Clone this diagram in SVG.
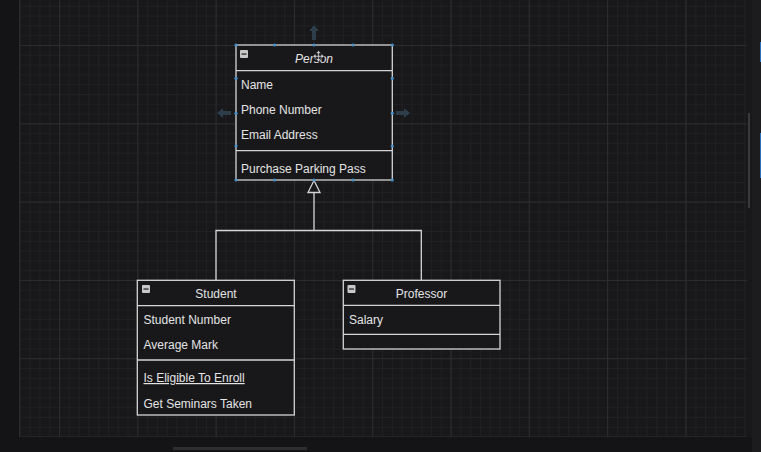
<svg xmlns="http://www.w3.org/2000/svg" width="761" height="452" viewBox="0 0 761 452">
<defs>
<pattern id="minor" patternUnits="userSpaceOnUse" x="59" y="45" width="9.79" height="9.79">
<path d="M0 0.5H9.79M0.5 0V9.79" fill="none" stroke="#202023" stroke-width="1"/>
</pattern>
<pattern id="major" patternUnits="userSpaceOnUse" x="59" y="45" width="78.3" height="78.3">
<path d="M0 0.5H78.3M0.5 0V78.3" fill="none" stroke="#2c2c2f" stroke-width="1"/>
</pattern>
<g id="minus">
<rect x="0" y="0" width="8" height="8" fill="#c8c8c8" rx="1"/>
<rect x="1.5" y="3.4" width="5" height="1.3" fill="#2a2a2a"/>
</g>
</defs>
<style>
.box{fill:#18181b;stroke:#d4d4d4;stroke-width:1.3}
.sep{stroke:#d4d4d4;stroke-width:1.3}
.t{font-family:"Liberation Sans",Arial,sans-serif;font-size:12px;fill:#e4e4e4}
.h{text-anchor:middle}
.conn{fill:none;stroke:#d4d4d4;stroke-width:1.3}
.hd{fill:#4a90c8}
.ga{fill:#2e3d4a}
</style>
<rect x="0" y="0" width="761" height="452" fill="#18181b"/>
<rect x="20" y="0" width="727" height="437" fill="url(#minor)"/>
<rect x="20" y="0" width="727" height="437" fill="url(#major)"/>
<rect x="0" y="0" width="19" height="452" fill="#141416"/>
<line x1="19.5" y1="0" x2="19.5" y2="437" stroke="#2c2c2f"/>
<rect x="0" y="437" width="761" height="15" fill="#141416"/>
<rect x="173" y="447" width="134" height="3" fill="#2e2e31"/>
<rect x="752" y="0" width="9" height="452" fill="#1c1c1f"/>
<rect x="748" y="113" width="2" height="95" fill="#3a3a3d"/>
<rect x="760" y="42" width="1" height="20" fill="#2d6fb8"/>
<rect x="760" y="133" width="1" height="45" fill="#2d6fb8"/>

<g id="connectors">
<path class="conn" d="M314 192.5V230.5M216 280V230.5H421.3V280"/>
<path d="M314 180.5L308 192.5H320Z" fill="#18181b" stroke="#d4d4d4" stroke-width="1.3"/>
</g>

<g id="person">
<rect class="box" x="236" y="45" width="156.3" height="135"/>
<line class="sep" x1="236" y1="70.7" x2="392.3" y2="70.7"/>
<line class="sep" x1="236" y1="150.7" x2="392.3" y2="150.7"/>
<use href="#minus" x="240" y="50"/>
<text class="t h" x="314" y="62.5" font-style="italic">Person</text>
<text class="t" x="241" y="88.5">Name</text>
<text class="t" x="241" y="113.5">Phone Number</text>
<text class="t" x="241" y="139">Email Address</text>
<text class="t" x="241" y="172.5">Purchase Parking Pass</text>
<g class="hd">
<circle cx="236" cy="45" r="1.6"/><circle cx="274.5" cy="45" r="1.6"/><circle cx="314" cy="45" r="1.6"/><circle cx="353" cy="45" r="1.6"/><circle cx="392.3" cy="45" r="1.6"/>
<circle cx="236" cy="180" r="1.6"/><circle cx="274.5" cy="180" r="1.6"/><circle cx="314" cy="180" r="1.6"/><circle cx="353" cy="180" r="1.6"/><circle cx="392.3" cy="180" r="1.6"/>
<circle cx="236" cy="78.3" r="1.6"/><circle cx="236" cy="113.3" r="1.6"/><circle cx="236" cy="146" r="1.6"/>
<circle cx="392.3" cy="78.3" r="1.6"/><circle cx="392.3" cy="113.3" r="1.6"/><circle cx="392.3" cy="146" r="1.6"/>
</g>
<g class="ga">
<path d="M314 25L309 31H312V40H316V31H319Z"/>
<path d="M217 113L223 108V111H231V115H223V118Z"/>
<path d="M410 113L404 108V111H396V115H404V118Z"/>
</g>
<path d="M318.5 50.5L316 53.5H317.8V55.5H315.8V53.7L312.8 56.2L315.8 58.7V56.9H317.8V58.9H316L318.5 61.9L321 58.9H319.2V56.9H321.2V58.7L324.2 56.2L321.2 53.7V55.5H319.2V53.5H321Z" fill="#d8d8d8" stroke="#18181b" stroke-width="0.6"/>
</g>

<g id="student">
<rect class="box" x="137.3" y="280.3" width="157" height="134.7"/>
<line class="sep" x1="137.3" y1="305.7" x2="294.3" y2="305.7"/>
<line class="sep" x1="137.3" y1="360" x2="294.3" y2="360"/>
<use href="#minus" x="142" y="285"/>
<text class="t h" x="216" y="297.5">Student</text>
<text class="t" x="143.5" y="323.5">Student Number</text>
<text class="t" x="143.5" y="348.5">Average Mark</text>
<text class="t" x="143.5" y="382" text-decoration="underline">Is Eligible To Enroll</text>
<text class="t" x="143.5" y="407.5">Get Seminars Taken</text>
</g>

<g id="professor">
<rect class="box" x="343.3" y="280.3" width="156.7" height="68.7"/>
<line class="sep" x1="343.3" y1="305.3" x2="500" y2="305.3"/>
<line class="sep" x1="343.3" y1="334.3" x2="500" y2="334.3"/>
<use href="#minus" x="347.5" y="285"/>
<text class="t h" x="421.5" y="297.5">Professor</text>
<text class="t" x="349" y="323.5">Salary</text>
</g>
</svg>
